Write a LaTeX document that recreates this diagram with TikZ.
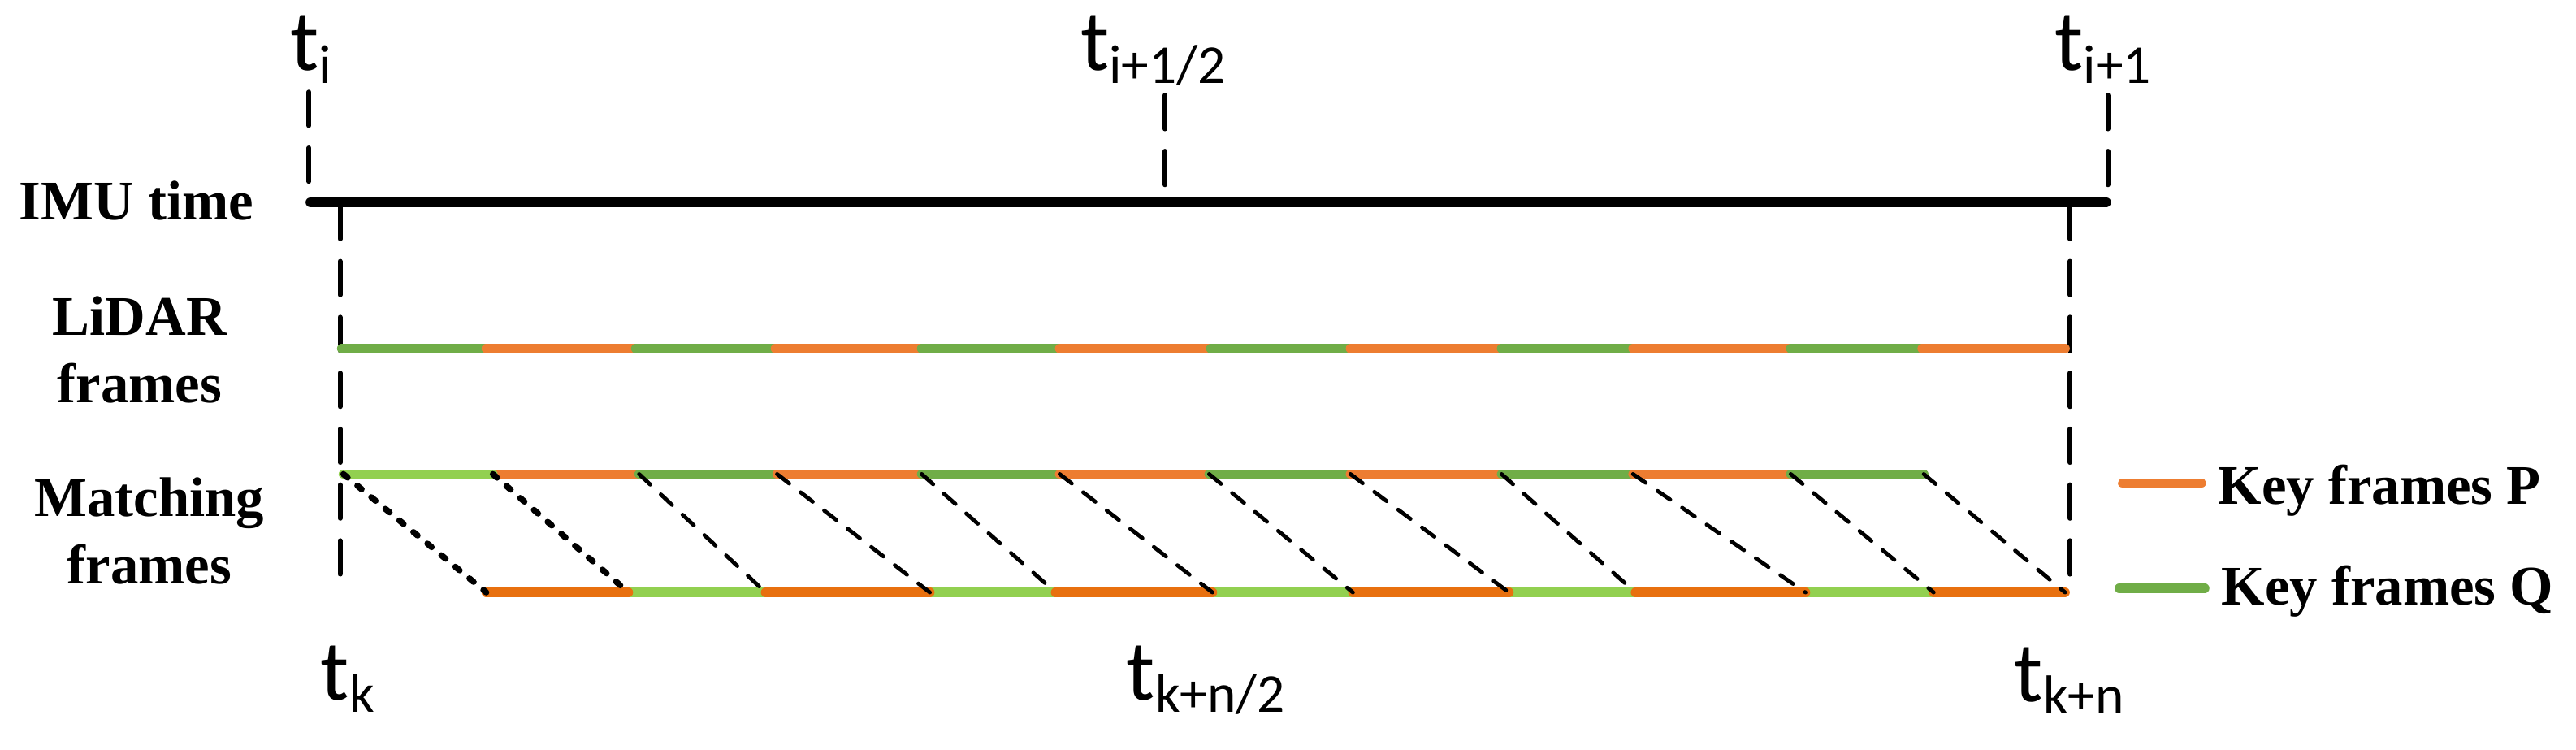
\documentclass[tikz,border=0pt]{standalone}
\usepackage{fontspec}
\setmainfont{Liberation Serif}
\newfontfamily\tfont{Carlito}
\usepackage{tikz}

\definecolor{orangeP}{HTML}{ED7D31}
\definecolor{orangePdark}{HTML}{E8700F}
\definecolor{greenQ}{HTML}{70AD47}
\definecolor{greenQlight}{HTML}{92D050}

\tikzset{
  imuline/.style={line width=4.5pt,line cap=round},
  tickline/.style={line width=2.2pt,line cap=round,dash pattern=on 15.3pt off 10.2pt},
  barP/.style={draw=orangeP,line width=4.3pt,line cap=round},
  barPdark/.style={draw=orangePdark,line width=4.3pt,line cap=round},
  barQ/.style={draw=greenQ,line width=4.3pt,line cap=round},
  barQlight/.style={draw=greenQlight,line width=4.3pt,line cap=round},
  matchdash/.style={line width=1.8pt,line cap=round,dash pattern=on 7pt off 6.6pt},
  matchdot/.style={line width=2.8pt,line cap=round,dash pattern=on 2.5pt off 5.8pt},
  rowlabel/.style={font=\fontsize{25.5}{30.75}\selectfont\bfseries,inner sep=0pt,align=center},
  tlabel/.style={font=\tfont\fontsize{39}{39}\selectfont,inner sep=0pt,anchor=base west}
}
\newcommand{\tsub}[1]{\raisebox{-5.6pt}{\fontsize{25}{25}\selectfont #1}}

\begin{document}
\begin{tikzpicture}[x=0.75pt,y=0.75pt,yscale=-1,xscale=1]
\useasboundingbox (0,0) rectangle (1568,456);

% Coordinates
\coordinate (tiTop) at (188,56);
\coordinate (ti) at (188,123);
\coordinate (tihTop) at (709,58);
\coordinate (tih) at (709,120);
\coordinate (tinTop) at (1283,58);
\coordinate (tin) at (1283,120);
\coordinate (tk) at (207,125);
\coordinate (tkBot) at (207,361);
\coordinate (tkn) at (1260,125);
\coordinate (tknBot) at (1260,360);

%Straight Lines [IMU time]
\draw [imuline] (189,123) -- (1282,123) ;
%Dashed Lines [time marks]
\draw [tickline] (tiTop) -- (ti) ;
\draw [tickline] (tihTop) -- (tih) ;
\draw [tickline] (tinTop) -- (tin) ;
\draw [tickline] (tk) -- (tkBot) ;
\draw [tickline] (tkn) -- (tknBot) ;

%Straight Lines [LiDAR frames]
\draw [barQ] (208,212) -- (296,212) ;
\draw [barP] (296,212) -- (387,212) ;
\draw [barQ] (387,212) -- (472,212) ;
\draw [barP] (472,212) -- (561,212) ;
\draw [barQ] (561,212) -- (645,212) ;
\draw [barP] (645,212) -- (737,212) ;
\draw [barQ] (737,212) -- (822,212) ;
\draw [barP] (822,212) -- (914,212) ;
\draw [barQ] (914,212) -- (994,212) ;
\draw [barP] (994,212) -- (1090,212) ;
\draw [barQ] (1090,212) -- (1170,212) ;
\draw [barP] (1170,212) -- (1257,212) ;

%Straight Lines [Matching frames, upper]
\draw [barP] (300,288.5) coordinate (m1) -- (389,288.5) coordinate (m2) ;
\draw [barQ] (m2) -- (473,288.5) coordinate (m3) ;
\draw [barP] (m3) -- (561,288.5) coordinate (m4) ;
\draw [barQ] (m4) -- (645,288.5) coordinate (m5) ;
\draw [barP] (m5) -- (736,288.5) coordinate (m6) ;
\draw [barQ] (m6) -- (822,288.5) coordinate (m7) ;
\draw [barP] (m7) -- (914,288.5) coordinate (m8) ;
\draw [barQ] (m8) -- (994,288.5) coordinate (m9) ;
\draw [barP] (m9) -- (1090,288.5) coordinate (m10) ;
\draw [barQ] (m10) -- (1171,288.5) coordinate (m11) ;
\draw [barQlight] (209,288.5) coordinate (m0) -- (m1) ;

%Straight Lines [Matching frames, lower]
\draw [barQlight] (382.5,360.5) coordinate (n1) -- (466,360.5) coordinate (n2) ;
\draw [barQlight] (566,360.5) coordinate (n3) -- (642.5,360.5) coordinate (n4) ;
\draw [barQlight] (738,360.5) coordinate (n5) -- (823.5,360.5) coordinate (n6) ;
\draw [barQlight] (918.5,360.5) coordinate (n7) -- (995.5,360.5) coordinate (n8) ;
\draw [barQlight] (1099,360.5) coordinate (n9) -- (1177,360.5) coordinate (n10) ;
\draw [barPdark] (296,360.5) coordinate (n0) -- (n1) ;
\draw [barPdark] (n2) -- (n3) ;
\draw [barPdark] (n4) -- (n5) ;
\draw [barPdark] (n6) -- (n7) ;
\draw [barPdark] (n8) -- (n9) ;
\draw [barPdark] (n10) -- (1257,360.5) coordinate (n11) ;

%Dashed Lines [matches]
\draw [matchdot] (m0) -- (n0) ;
\draw [matchdot] (m1) -- (n1) ;
\draw [matchdash] (m2) -- (n2) ;
\draw [matchdash] (m3) -- (n3) ;
\draw [matchdash] (m4) -- (n4) ;
\draw [matchdash] (m5) -- (n5) ;
\draw [matchdash] (m6) -- (n6) ;
\draw [matchdash] (m7) -- (n7) ;
\draw [matchdash] (m8) -- (n8) ;
\draw [matchdash] (m9) -- (n9) ;
\draw [matchdash] (m10) -- (n10) ;
\draw [matchdash] (m11) -- (n11) ;

%Straight Lines [legend]
\draw [barP] (1292,294) coordinate (legP) -- (1340,294) ;
\draw [barQ] (1290,358) coordinate (legQ) -- (1342,358) ;

% Text Node
\node (imu) [rowlabel,anchor=base] at (83,134) {IMU time};
% Text Node
\node (lidar) [rowlabel] at (85,213) {LiDAR\\frames};
% Text Node
\node (match) [rowlabel] at (91,323) {Matching\\frames};
% Text Node
\node (keyP) [rowlabel,anchor=base west] at (1350,307) {Key frames P};
% Text Node
\node (keyQ) [rowlabel,anchor=base west] at (1352,368) {Key frames Q};

% Text Node
\node (t_i) [tlabel] at (176.5,43) {t\tsub{i}};
% Text Node
\node (t_ih) [tlabel] at (657.5,43) {t\tsub{i+1/2}};
% Text Node
\node (t_in) [tlabel] at (1250.5,43) {t\tsub{i+1}};
% Text Node
\node (t_k) [tlabel] at (195,426) {t\tsub{k}};
% Text Node
\node (t_kh) [tlabel] at (685.5,426) {t\tsub{k+n/2}};
% Text Node
\node (t_kn) [tlabel] at (1226,427) {t\tsub{k+n}};

\end{tikzpicture}
\end{document}
